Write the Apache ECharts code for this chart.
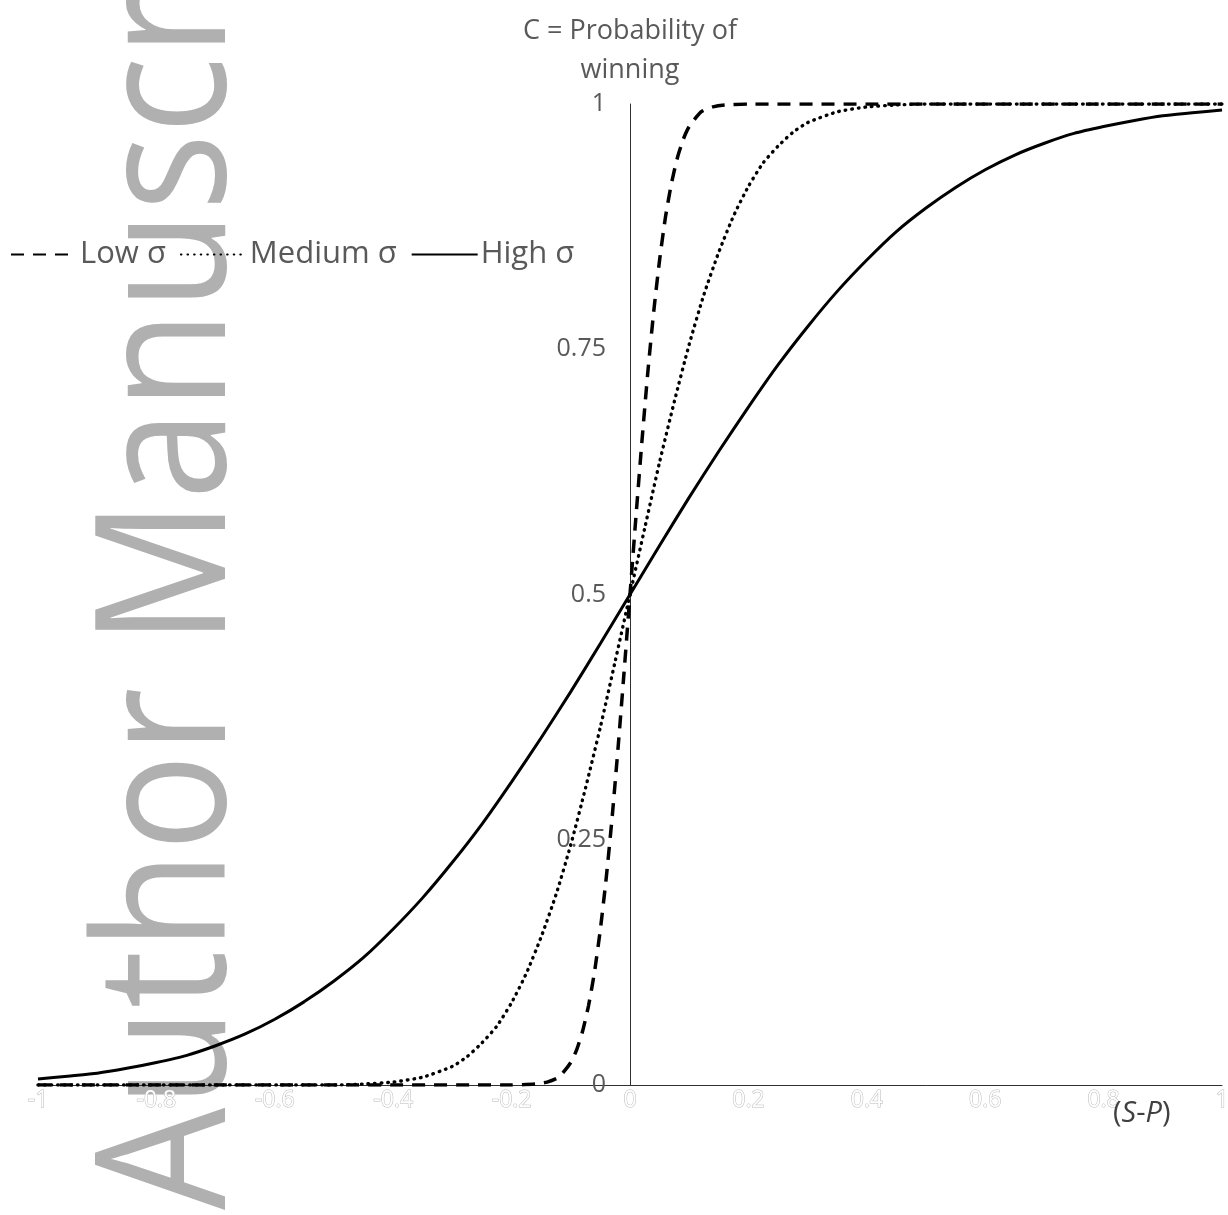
<!DOCTYPE html>
<html>
<head>
<meta charset="utf-8">
<script src="https://cdn.jsdelivr.net/npm/echarts@6/dist/echarts.min.js"></script>
<style>
html,body{margin:0;padding:0;background:#fff;}
#chart{width:1228px;height:1215px;}
</style>
</head>
<body>
<div id="chart"></div>
<script>
// ---- data ----
const seriesNames = ['Low σ', 'Medium σ', 'High σ'];

const lowX = [-1, -0.2, -0.16, -0.14, -0.12, -0.1, -0.09, -0.08, -0.07, -0.06, -0.05, -0.04, -0.03, -0.02, -0.01, 0, 0.01, 0.02, 0.03, 0.04, 0.05, 0.06, 0.07, 0.08, 0.09, 0.1, 0.12, 0.14, 0.16, 0.2, 1];
const lowY = [0, 0, 0.001, 0.003, 0.008, 0.023, 0.036, 0.055, 0.081, 0.115, 0.159, 0.212, 0.274, 0.345, 0.421, 0.5, 0.579, 0.655, 0.726, 0.788, 0.841, 0.885, 0.919, 0.945, 0.964, 0.977, 0.992, 0.997, 0.999, 1, 1];

const medX = [-1, -0.5, -0.45, -0.4, -0.35, -0.3, -0.275, -0.25, -0.225, -0.2, -0.175, -0.15, -0.125, -0.1, -0.075, -0.05, -0.025, 0, 0.025, 0.05, 0.075, 0.1, 0.125, 0.15, 0.175, 0.2, 0.225, 0.25, 0.275, 0.3, 0.35, 0.4, 0.45, 0.5, 1];
const medY = [0, 0, 0.001, 0.003, 0.008, 0.019, 0.029, 0.043, 0.060, 0.084, 0.114, 0.151, 0.194, 0.245, 0.303, 0.365, 0.432, 0.5, 0.568, 0.635, 0.697, 0.755, 0.806, 0.849, 0.886, 0.916, 0.940, 0.957, 0.971, 0.981, 0.992, 0.997, 0.999, 1, 1];

const highX = [-1, -0.95, -0.9, -0.85, -0.8, -0.75, -0.7, -0.65, -0.6, -0.55, -0.5, -0.45, -0.4, -0.35, -0.3, -0.25, -0.2, -0.15, -0.1, -0.05, 0, 0.05, 0.1, 0.15, 0.2, 0.25, 0.3, 0.35, 0.4, 0.45, 0.5, 0.55, 0.6, 0.65, 0.7, 0.75, 0.8, 0.85, 0.9, 0.95, 1];
const highY = [0.006, 0.009, 0.012, 0.017, 0.023, 0.030, 0.040, 0.052, 0.067, 0.085, 0.106, 0.130, 0.159, 0.191, 0.227, 0.266, 0.309, 0.354, 0.401, 0.450, 0.5, 0.550, 0.599, 0.646, 0.691, 0.734, 0.773, 0.809, 0.841, 0.870, 0.894, 0.915, 0.933, 0.948, 0.960, 0.970, 0.977, 0.983, 0.988, 0.991, 0.994];

const yAxisTitle = 'C = Probability of\nwinning';
const watermarkText = 'Author Manuscript';

function pairs(xs, ys) { return xs.map((x, i) => [x, ys[i]]); }

const FONT = '"Open Sans", "Noto Sans", sans-serif';
const GRID = {left: 38, right: 6, top: 104, bottom: 130};
const plotW = 1228 - GRID.left - GRID.right;

const chart = echarts.init(document.getElementById('chart'), null, {renderer: 'canvas'});

chart.setOption({
  animation: false,
  backgroundColor: '#fff',
  color: ['#000', '#000', '#000'],
  grid: Object.assign({containLabel: false, outerBoundsMode: 'none'}, GRID),
  legend: {
    data: seriesNames,
    left: 10, top: 239,
    padding: 0,
    itemGap: 14,
    itemWidth: 66, itemHeight: 14,
    itemStyle: {opacity: 0},
    textStyle: {fontFamily: FONT, fontSize: 31, color: '#595959', padding: [0, 0, 0, -2]}
  },
  graphic: [
    {
      type: 'text', z: -10, silent: true,
      x: 173, y: 1210, rotation: Math.PI / 2, scaleX: 0.89,
      style: {text: watermarkText, fontFamily: FONT, fontSize: 182, fill: '#b0b0b0', textAlign: 'left', textVerticalAlign: 'middle'}
    },
    {
      type: 'text', z: 10,
      x: 1113, y: 1099,
      style: {
        text: '{n|(}{i|S}{n|-}{i|P}{n|)}',
        rich: {
          n: {fontFamily: FONT, fontSize: 29, fill: '#404040', color: '#404040'},
          i: {fontFamily: FONT, fontSize: 29, fontStyle: 'italic', fill: '#404040', color: '#404040'}
        }
      }
    }
  ],
  xAxis: {
    type: 'value', min: -1, max: 1, interval: 0.2,
    splitLine: {show: false},
    axisTick: {show: false},
    axisLine: {onZero: false, lineStyle: {color: '#303030', width: 1}},
    axisLabel: {
      fontFamily: FONT, fontSize: 23, color: '#ffffff',
      textBorderColor: '#b8b8b8', textBorderWidth: 1, margin: 4
    }
  },
  yAxis: {
    type: 'value', min: 0, max: 1, interval: 0.25,
    position: 'left',
    offset: -plotW / 2,
    name: yAxisTitle, nameLocation: 'end', nameGap: 14,
    nameTextStyle: {fontFamily: FONT, fontSize: 27, color: '#595959', lineHeight: 39, align: 'center'},
    splitLine: {show: false},
    axisTick: {show: false},
    axisLine: {show: true, onZero: false, lineStyle: {color: '#303030', width: 1}},
    axisLabel: {fontFamily: FONT, fontSize: 25, color: '#595959', margin: 24}
  },
  series: [
    {
      name: seriesNames[0], type: 'line', symbol: 'none', z: 5,
      smooth: 0.2,
      data: pairs(lowX, lowY),
      itemStyle: {color: '#000'},
      lineStyle: {color: '#000', width: 3.5, type: [13, 9]}
    },
    {
      name: seriesNames[1], type: 'line', symbol: 'none', z: 4,
      smooth: 0.2,
      data: pairs(medX, medY),
      itemStyle: {color: '#000'},
      lineStyle: {color: '#000', width: 3.4, type: [0.6, 6], cap: 'round'}
    },
    {
      name: seriesNames[2], type: 'line', symbol: 'none', z: 3,
      smooth: 0.2,
      data: pairs(highX, highY),
      itemStyle: {color: '#000'},
      lineStyle: {color: '#000', width: 3}
    }
  ]
});
</script>
</body>
</html>
